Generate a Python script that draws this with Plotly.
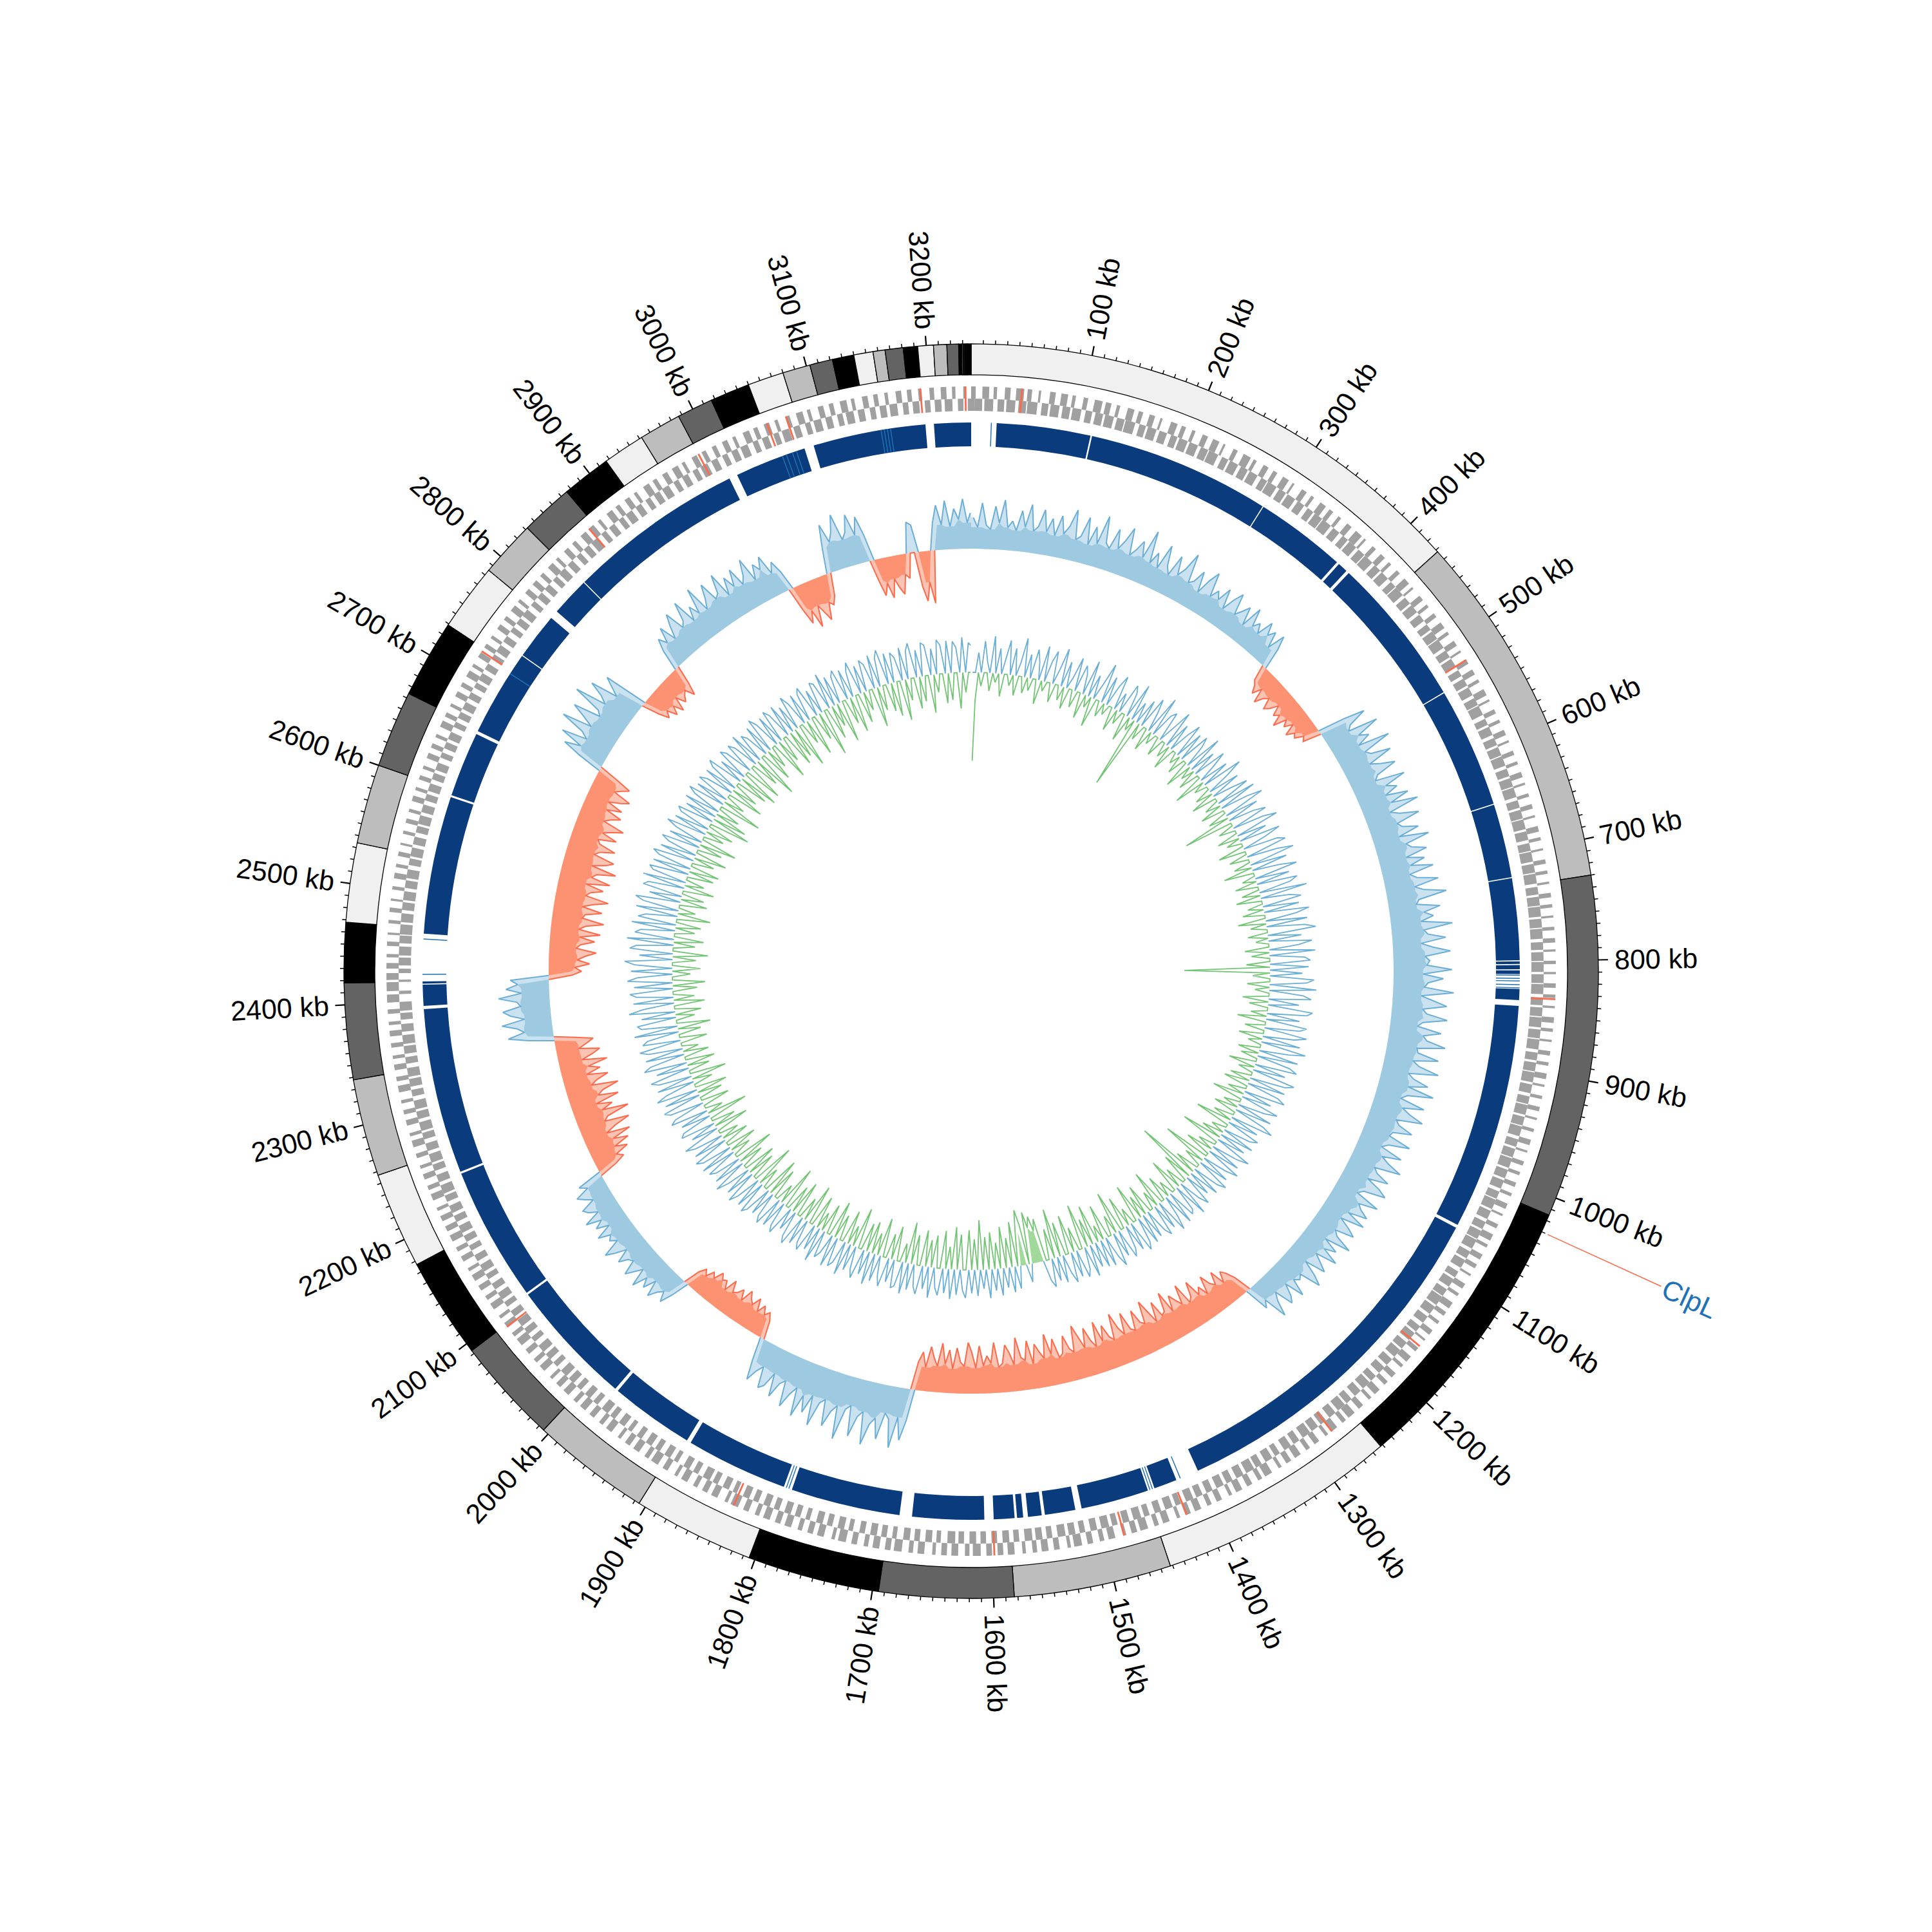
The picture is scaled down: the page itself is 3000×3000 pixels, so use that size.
import math
import plotly.graph_objects as go

# ---------------- data ----------------
GENOME_KB = 3237
BIN_KB = 5          # signal tracks
GENE_BIN_KB = 10    # gene density

contig_bounds_kb = [0, 432, 730, 1015, 1252, 1452, 1583, 1695, 1805, 1906, 2005, 2093, 2177,
                    2257, 2338, 2418, 2468, 2534, 2600, 2664, 2729, 2785, 2832, 2876, 2917,
                    2952, 2987, 3017, 3050, 3080, 3103, 3122, 3140, 3156, 3166, 3181, 3193,
                    3206, 3217, 3226.7, 3229.3, 3230.2, 3231.0, 3231.8, 3232.5, 3233.2,
                    3233.8, 3234.4, 3237]
contig_shades = ["#f0f0f0", "#bdbdbd", "#636363", "#000000"]

major_ticks_kb = [100, 200, 300, 400, 500, 600, 700, 800, 900, 1000, 1100, 1200, 1300, 1400,
                  1500, 1600, 1700, 1800, 1900, 2000, 2100, 2200, 2300, 2400, 2500, 2600, 2700,
                  2800, 2900, 3000, 3100, 3200]
tick_labels = [f"{k} kb" for k in major_ticks_kb]

# gene density per 10 kb bin (tenths), outer (+) and inner (-) strand
genes_fwd = [
    4,6,3,5,7,4,2,5,6,3,4,7,5,3,6,4,5,2,6,4,
    3,5,6,2,4,7,3,5,4,6,2,5,3,6,4,3,5,7,2,4,
    5,3,4,6,2,5,3,4,6,3,5,2,4,5,3,6,2,4,3,5,
    2,4,3,5,2,3,4,2,5,3,2,4,3,2,4,3,2,3,4,2,
    3,2,4,3,2,5,3,2,4,3,5,2,3,4,2,3,5,2,4,3,
    4,3,5,2,4,6,3,5,4,2,5,3,6,4,3,5,2,4,6,3,
    5,4,6,3,5,7,4,6,3,5,4,6,5,3,7,4,5,6,3,5,
    4,6,5,3,6,4,7,5,3,6,4,5,7,3,5,6,4,3,6,5,
    5,7,4,6,5,3,6,4,7,5,6,4,5,7,3,6,5,4,6,5,
    6,4,5,7,3,6,5,4,6,3,5,7,4,6,5,3,6,4,5,6,
    4,6,5,3,6,4,5,7,4,5,3,6,4,5,6,3,5,4,6,5,
    5,3,6,4,5,3,4,6,3,5,4,3,6,4,5,3,4,5,3,4,
    7,8,6,5,3,4,2,3,4,2,3,5,3,4,2,3,4,3,5,3,
    4,3,5,4,3,6,4,3,5,4,6,3,5,4,3,5,4,6,3,5,
    5,4,6,3,5,4,6,5,3,6,4,5,3,6,4,5,6,3,5,4,
    4,5,3,6,4,5,3,4,6,3,5,4,6,3,5,4,3,5,4,3,
    4,5,3,2]
genes_rev = [
    7,8,6,8,7,9,6,8,7,8,6,7,8,7,9,6,8,7,6,8,
    8,7,9,6,8,7,8,6,9,7,8,7,6,8,9,7,6,8,7,9,
    7,8,6,9,7,8,7,6,8,9,7,8,6,7,8,7,9,6,8,7,
    8,9,7,8,9,7,8,9,8,7,9,8,9,7,8,9,8,9,7,8,
    9,8,9,7,8,9,8,9,7,8,9,8,7,9,8,9,7,8,9,8,
    8,7,9,8,7,8,9,7,8,6,8,7,9,8,7,6,8,7,8,7,
    7,6,8,7,6,8,7,6,7,8,6,7,5,7,6,8,7,6,7,6,
    6,7,5,7,6,5,7,6,5,7,6,5,6,7,5,6,7,5,6,5,
    5,6,5,7,4,6,5,6,4,5,6,5,4,6,5,6,4,5,6,5,
    6,5,6,4,6,5,7,5,6,4,6,5,6,5,4,6,5,7,5,6,
    5,6,7,5,6,7,5,6,7,6,5,7,6,5,7,6,5,6,7,6,
    7,6,8,7,6,8,7,6,8,7,8,6,7,8,6,7,8,7,6,8,
    3,2,4,7,8,7,9,8,7,8,7,8,6,8,7,6,8,7,6,7,
    6,7,5,6,7,5,6,7,6,5,7,6,5,7,6,5,6,7,5,6,
    6,5,7,6,5,6,7,5,6,5,7,6,5,6,7,5,6,5,7,6,
    5,6,7,5,6,5,7,6,5,7,6,5,7,6,5,6,7,5,6,5,
    6,7,5,6]
red_genes_kb = [45, 520, 834, 1168, 1276, 1424, 1482, 1598, 1834, 2091, 2726, 2870, 2987,
                3053, 3071, 3192, 3232]

# conserved-region ring (navy blocks) and lighter partial hits
navy_start_kb = [24, 114.5, 289.5, 378.5, 391, 535.5, 650.5, 721.5, 800, 803.5, 808.5, 826,
                 842, 1060, 1421, 1449.5, 1520, 1552, 1569.5, 1577.6, 1606.1, 1686, 1798,
                 1899, 1982, 2105, 2235, 2395, 2416, 2463, 2596, 2661, 2744, 2796, 2834,
                 3010, 3087, 3202]
navy_end_kb = [113, 288.5, 376, 388, 534.5, 649.5, 720.5, 799, 802.5, 807.5, 812, 836.5,
               1057, 1399, 1443, 1514, 1549, 1565, 1575.3, 1597.3, 1674.2, 1790, 1895,
               1979, 2103, 2233, 2392, 2415, 2418, 2594, 2658, 2743, 2788, 2833, 3002,
               3078, 3194, 3237]
light_hits_kb = [19, 813, 816, 818.5, 822, 825, 1417, 1445, 1447.5, 1793, 1795.5, 2424.7,
                 2458, 2723, 3056, 3060, 3066, 3070, 3152, 3155, 3158, 3161]

# outer signal track (5 kb bins): + outward (blue) / - inward (red)
gc_dev = [
    0.55,0.38,0.81,0.42,0.35,0.76,0.47,0.88,0.40,0.52,0.36,0.72,0.44,0.85,0.39,0.48,0.79,0.41,0.66,0.37,
    0.74,0.43,0.58,0.90,0.38,0.46,0.82,0.35,0.69,0.41,0.93,0.47,0.39,0.77,0.44,0.61,0.87,0.40,0.53,0.72,
    0.45,0.97,0.41,0.63,0.38,0.84,0.49,0.36,0.75,0.43,0.58,0.91,0.40,0.47,0.70,0.34,0.62,0.81,0.39,0.55,
    0.42,0.68,0.33,0.57,0.74,0.37,0.49,0.63,0.31,0.71,0.40,0.52,0.36,0.66,0.45,0.58,0.30,0.62,0.38,-0.28,
    -0.35,-0.48,-0.31,-0.56,-0.40,-0.33,-0.52,-0.44,-0.29,-0.47,-0.38,-0.58,-0.34,-0.45,-0.30,-0.51,-0.37,-0.42,-0.27,-0.33,
    0.48,0.86,0.52,0.44,0.97,0.55,0.71,0.46,1.02,0.50,0.58,0.92,0.47,0.65,0.89,0.51,0.43,0.95,0.56,0.74,
    0.49,0.88,0.53,1.00,0.45,0.61,0.93,0.50,0.57,0.84,0.46,0.98,0.54,0.62,0.87,0.48,0.79,0.52,0.91,0.47,
    0.58,0.95,0.51,0.67,1.05,0.55,0.49,0.90,0.60,0.76,0.53,1.08,0.57,0.63,0.94,0.50,0.71,1.01,0.56,0.64,
    0.59,1.03,0.52,0.88,0.61,0.55,1.07,0.50,0.73,0.96,0.54,0.62,0.99,0.57,0.48,0.91,0.60,0.68,1.02,0.53,
    0.56,0.94,0.50,0.63,0.99,0.47,0.58,0.86,0.52,1.00,0.55,0.45,0.90,0.53,0.69,0.95,0.49,0.57,0.84,0.51,
    0.48,0.89,0.53,0.42,0.83,0.50,0.66,0.92,0.46,0.55,0.80,0.44,0.71,0.87,0.49,0.40,0.85,0.52,0.61,0.78,
    0.45,0.81,0.39,0.60,0.76,0.43,0.52,0.84,0.38,0.67,0.47,0.79,0.41,0.57,0.73,0.36,0.63,0.82,0.44,0.50,
    0.42,0.72,0.37,0.58,0.69,0.35,0.49,0.76,0.33,0.45,-0.32,-0.48,-0.57,-0.38,-0.66,-0.44,-0.52,-0.71,-0.40,-0.59,
    -0.47,-0.78,-0.53,-0.45,-0.84,-0.50,-0.62,-0.75,-0.48,-0.88,-0.55,-0.51,-0.80,-0.46,-0.69,-0.91,-0.52,-0.58,-0.83,-0.49,
    -0.54,-0.87,-0.50,-0.64,-0.93,-0.48,-0.56,-0.79,-0.53,-0.90,-0.47,-0.61,-0.85,-0.51,-0.74,-0.95,-0.49,-0.57,-0.82,-0.52,
    -0.46,-0.81,-0.55,-0.92,-0.50,-0.63,-0.78,-0.44,-0.86,-0.52,-0.58,-0.94,-0.47,-0.69,-0.83,-0.51,-0.45,-0.89,-0.53,-0.66,
    -0.49,-0.84,-0.45,-0.72,-0.90,-0.48,-0.55,-0.80,-0.43,-0.76,-0.51,-0.87,-0.46,-0.60,-0.79,-0.42,-0.68,-0.50,0.56,0.92,
    0.52,1.08,0.58,0.49,0.97,0.61,0.74,1.12,0.55,0.66,1.03,0.50,0.59,1.15,0.57,0.70,0.99,0.53,0.62,1.06,
    0.54,0.88,0.60,1.01,0.51,0.67,0.93,0.48,0.57,0.85,0.45,0.72,0.80,0.43,0.55,0.76,0.41,-0.33,-0.46,-0.38,
    -0.52,-0.36,-0.58,-0.42,-0.49,-0.61,-0.37,-0.55,-0.44,-0.40,-0.59,-0.35,-0.50,-0.46,-0.56,-0.39,-0.47,-0.33,-0.42,-0.30,
    0.32,0.55,0.38,0.47,0.63,0.35,0.58,0.42,0.69,0.37,0.51,0.66,0.40,0.45,0.61,0.36,0.56,0.72,0.39,0.50,
    0.43,0.64,0.35,0.57,0.41,0.68,0.38,0.53,0.60,0.34,0.47,0.58,0.32,0.45,-0.34,-0.52,-0.41,-0.66,-0.45,-0.74,
    -0.48,-0.83,-0.42,-0.61,-0.90,-0.47,-0.55,-0.96,-0.50,-0.71,-0.44,-0.87,-0.52,-0.63,-0.93,-0.46,-0.58,-0.80,-0.43,-0.69,
    -0.49,-0.85,-0.41,-0.62,-0.76,-0.40,-0.55,-0.68,-0.37,0.45,0.80,0.50,0.62,0.88,0.47,0.71,0.84,0.52,0.58,0.90,
    0.49,0.76,0.55,0.68,-0.41,-0.58,-0.46,-0.72,-0.50,-0.64,-0.83,-0.47,-0.55,-0.79,-0.52,-0.88,-0.49,-0.61,-0.92,-0.53,
    -0.57,-0.86,-0.50,-0.69,-0.94,-0.52,-0.60,-0.81,-0.48,-0.90,-0.55,-0.63,-0.96,-0.51,-0.74,-0.87,-0.49,-0.58,-0.83,-0.53,
    -0.47,-0.79,-0.51,-0.66,-0.85,-0.45,-0.56,-0.72,-0.42,-0.68,-0.39,-0.60,-0.74,-0.41,-0.52,-0.64,-0.36,0.44,0.78,0.50,
    0.92,0.47,0.61,1.05,0.52,0.73,0.98,0.49,0.58,1.10,0.54,0.68,0.95,0.46,0.63,0.80,-0.31,-0.50,-0.39,-0.57,
    -0.42,-0.60,-0.35,-0.53,-0.44,-0.38,-0.55,-0.33,0.38,0.59,0.44,0.71,0.40,0.63,0.82,0.46,0.55,0.88,0.43,0.67,
    0.48,0.93,0.45,0.62,0.86,0.51,0.57,0.90,0.44,0.74,0.52,0.81,0.47,0.60,0.87,0.43,0.69,0.55,0.76,0.40,
    0.58,0.36,-0.42,-0.71,-0.50,-0.83,-0.46,-0.62,-0.78,-0.48,-0.55,-0.40,0.45,0.86,0.52,0.68,0.97,0.49,0.60,0.90,
    0.51,0.82,0.47,-0.38,-0.66,-0.45,-0.73,-0.40,-0.58,-0.70,-0.36,-0.44,0.55,0.49,-0.62,-0.88,-0.55,-0.93,0.48,0.79,
    0.44,0.86,0.40,0.71,0.52,0.88,0.46,0.63]

# inner skew track (5 kb bins): + outward (blue) / - inward (green)
skew = [
    -0.98,-0.30,0.22,-0.15,0.35,0.12,-0.20,0.41,-0.10,0.28,-0.25,0.18,0.38,-0.12,0.30,-0.22,0.15,0.43,-0.18,0.26,
    -0.14,0.33,0.20,-0.27,0.39,-0.11,0.24,0.36,-0.21,0.17,0.42,-0.16,0.29,-0.24,0.13,0.37,-0.19,0.31,0.22,-0.28,
    0.40,-0.13,0.26,-0.33,0.19,0.44,-0.17,0.32,-0.12,0.25,0.38,-0.26,0.21,-0.15,0.35,0.27,-0.30,0.41,-0.14,0.23,
    -0.80,0.30,-0.18,0.37,0.22,-0.25,0.45,-0.13,0.28,0.34,-0.21,0.19,0.42,-0.16,0.31,-0.27,0.24,0.39,-0.12,0.33,
    -0.20,0.36,0.25,-0.31,0.43,-0.15,0.29,-0.23,0.38,0.21,-0.35,0.33,-0.14,0.46,0.27,-0.19,0.35,-0.28,0.22,0.40,
    -0.17,0.44,-0.26,0.31,0.48,-0.22,0.37,-0.55,0.29,0.42,-0.18,0.35,0.50,-0.24,0.33,-0.16,0.46,0.28,-0.30,0.39,
    0.47,-0.21,0.34,0.52,-0.19,0.41,-0.33,0.30,0.49,-0.15,0.38,-0.25,0.45,0.36,-0.20,0.53,-0.28,0.32,0.44,-0.17,
    0.40,-0.24,0.50,0.35,-0.31,0.46,-0.18,0.42,0.54,-0.22,0.37,-0.14,0.48,0.33,-0.27,0.51,-0.20,0.39,0.45,-0.26,
    0.43,-0.95,0.36,-0.19,0.49,0.41,-0.25,0.52,-0.16,0.38,0.47,-0.29,0.34,-0.21,0.50,0.44,-0.18,0.37,-0.32,0.46,
    0.39,-0.22,0.48,0.35,-0.27,0.43,-0.15,0.51,0.32,-0.24,0.45,-0.19,0.38,0.47,-0.30,0.36,-0.17,0.49,0.40,-0.23,
    0.42,-0.28,0.37,0.46,-0.20,0.33,-0.35,0.44,0.30,-0.18,0.41,-0.26,0.36,0.48,-0.22,0.34,-0.40,0.39,0.31,-0.16,
    0.38,-0.24,0.32,-0.45,0.43,0.29,-0.19,0.36,-0.30,0.41,0.27,-0.52,0.34,-0.21,0.39,0.30,-0.26,0.35,-0.70,0.28,
    -0.33,0.36,0.25,-0.22,0.40,-0.38,0.29,0.33,-0.17,0.37,-0.28,0.24,0.39,-0.41,0.31,-0.20,0.35,0.27,-0.34,0.30,
    -0.25,0.33,-0.42,0.28,0.36,-0.19,0.31,-0.36,0.26,0.34,-0.47,0.29,-0.22,0.37,0.25,-0.39,0.32,-0.18,0.30,-0.44,
    0.27,-0.31,0.35,-0.50,0.24,0.32,-0.27,0.29,-0.43,0.33,0.22,-0.38,0.30,-0.55,0.26,-0.34,0.31,0.23,-0.48,-0.35,
    -0.52,-0.40,-0.58,0.20,-0.45,-0.62,-0.38,0.25,-0.50,0.28,-0.33,0.22,-0.46,0.30,-0.29,0.24,-0.41,0.32,-0.36,0.21,
    -0.55,0.29,-0.34,0.26,-0.44,0.31,0.23,-0.39,0.28,-0.47,0.33,-0.25,0.27,-0.42,0.30,0.22,-0.36,0.34,-0.30,0.25,
    -0.40,0.32,0.24,-0.33,0.29,-0.46,0.35,-0.21,0.28,0.31,-0.38,0.26,-0.28,0.33,0.22,-0.43,0.30,-0.24,0.36,-0.35,
    0.27,-0.31,0.34,0.25,-0.45,0.29,-0.22,0.37,-0.37,0.26,0.32,-0.28,0.35,-0.41,0.23,0.30,-0.33,0.38,-0.20,0.28,
    -0.36,0.33,0.26,-0.44,0.31,-0.25,0.36,0.29,-0.39,0.24,-0.30,0.34,0.27,-0.47,0.32,-0.21,0.35,0.28,-0.34,0.30,
    -0.42,0.31,0.37,-0.23,0.34,-0.48,0.28,0.38,-0.30,0.33,-0.36,0.26,0.40,-0.27,0.35,-0.44,0.29,0.36,-0.22,0.39,
    -0.33,0.34,0.41,-0.29,0.37,-0.21,0.32,0.43,-0.38,0.30,-0.26,0.39,0.35,-0.45,0.33,-0.19,0.42,0.36,-0.31,0.38,
    0.44,-0.27,0.39,-0.35,0.46,0.34,-0.22,0.41,-0.40,0.37,0.45,-0.24,0.36,-0.32,0.48,0.40,-0.28,0.43,-0.18,0.38,
    0.47,-0.30,0.42,0.36,-0.25,0.49,-0.37,0.40,0.44,-0.21,0.38,-0.29,0.51,0.35,-0.34,0.45,-0.23,0.41,0.48,-0.27,
    0.43,-0.36,0.50,0.39,-0.20,0.46,-0.31,0.42,0.53,-0.26,0.37,-0.39,0.48,0.41,-0.24,0.52,-0.33,0.44,0.38,-0.22,
    0.49,-0.28,0.43,0.35,-0.37,0.47,-0.19,0.41,0.50,-0.30,0.36,-0.25,0.45,0.40,-0.34,0.48,-0.21,0.39,0.44,-0.29,
    0.42,-0.33,0.38,0.46,-0.24,0.40,-0.36,0.34,0.43,-0.27,0.37,-0.41,0.33,0.45,-0.22,0.39,-0.30,0.36,0.41,-0.45,
    0.35,-0.38,0.40,-0.26,0.33,0.42,-0.47,0.36,-0.23,0.39,0.31,-0.40,0.37,-0.29,0.34,0.41,-0.35,0.30,-0.44,0.38,
    0.32,-0.42,0.36,0.29,-0.31,0.39,-0.50,0.33,0.27,-0.36,0.35,-0.24,0.40,0.31,-0.45,0.34,-0.28,0.37,0.30,-0.39,
    0.36,-0.33,0.30,-0.48,0.38,0.28,-0.26,0.34,-0.43,0.31,0.37,-0.30,0.29,-0.52,0.35,0.32,-0.37,0.40,-0.25,0.33,
    -0.46,0.30,0.36,-0.29,0.33,-0.41,0.28,0.38,-0.34,0.31,-0.22,0.35,0.29,-0.44,0.37,-0.27,0.32,0.40,-0.31,0.34,
    -0.38,0.33,0.27,-0.45,0.36,-0.24,0.31,0.39,-0.35,0.30,-0.28,0.37,0.34,-0.42,0.29,-0.20,0.38,0.32,-0.33,0.36,
    -0.30,0.35,0.28,-0.40,0.39,-0.22,0.33,0.30]

clpl_kb = 1030
clpl_label = "ClpL"

N_BINS = len(gc_dev)
assert N_BINS == 648, N_BINS
assert len(skew) == N_BINS, len(skew)
assert len(genes_fwd) == 324 and len(genes_rev) == 324
assert len(navy_start_kb) == len(navy_end_kb)

# ---------------- geometry (radii in px on a 3000 px canvas) ----------------
W = 3000
R_IDEO_IN, R_IDEO_OUT = 926, 974
R_GENE_IN, R_GENE_MID, R_GENE_OUT = 870, 889, 908
R_NAVY_IN, R_NAVY_OUT = 815, 852
R_GC_BASE, GC_SCALE = 656, 88
R_SKEW_BASE, SKEW_SCALE = 464, 140
LABEL_FONT = 43
LABEL_R0 = 999
FONT = "Liberation Sans, Arial, sans-serif"


def deg(kb):
    return kb / GENOME_KB * 360.0


bin_centers = [deg(min(i * BIN_KB + BIN_KB / 2, (i * BIN_KB + GENOME_KB) / 2)) for i in range(N_BINS)]

fig = go.Figure()

# ---------- ideogram ring ----------
seg_mid, seg_w, seg_c = [], [], []
for i in range(len(contig_bounds_kb) - 1):
    a, b = contig_bounds_kb[i], contig_bounds_kb[i + 1]
    seg_mid.append(deg((a + b) / 2))
    seg_w.append(deg(b - a))
    seg_c.append(contig_shades[i % 4])
fig.add_trace(go.Barpolar(theta=seg_mid, width=seg_w, r=[R_IDEO_OUT - R_IDEO_IN] * len(seg_mid),
                          base=R_IDEO_IN, marker=dict(color=seg_c, line=dict(color="black", width=1.3)),
                          hoverinfo="skip"))

# ---------- genes (block per 10 kb bin, forward start-aligned, reverse end-aligned) ----------
for dens, base, align in ((genes_fwd, R_GENE_MID, 0), (genes_rev, R_GENE_IN, 1)):
    th, wd = [], []
    for i, d in enumerate(dens):
        if d <= 0:
            continue
        span = GENE_BIN_KB * d / 10.0
        start = i * GENE_BIN_KB + (GENE_BIN_KB - span) * align
        th.append(deg(start + span / 2))
        wd.append(deg(span))
    fig.add_trace(go.Barpolar(theta=th, width=wd, r=[R_GENE_OUT - R_GENE_MID] * len(th), base=base,
                              marker=dict(color="#a0a0a0", line=dict(width=0)), hoverinfo="skip"))
fig.add_trace(go.Barpolar(theta=[deg(k) for k in red_genes_kb], width=[deg(1.6)] * len(red_genes_kb),
                          r=[R_GENE_OUT - R_GENE_IN] * len(red_genes_kb), base=R_GENE_IN,
                          marker=dict(color="#fb6a4a", line=dict(width=0)), hoverinfo="skip"))

# ---------- navy ring ----------
fig.add_trace(go.Barpolar(theta=[deg((a + b) / 2) for a, b in zip(navy_start_kb, navy_end_kb)],
                          width=[deg(b - a) for a, b in zip(navy_start_kb, navy_end_kb)],
                          r=[R_NAVY_OUT - R_NAVY_IN] * len(navy_start_kb), base=R_NAVY_IN,
                          marker=dict(color="#0a3c7d", line=dict(width=0)), hoverinfo="skip"))
fig.add_trace(go.Barpolar(theta=[deg(k) for k in light_hits_kb], width=[deg(0.9)] * len(light_hits_kb),
                          r=[R_NAVY_OUT - R_NAVY_IN] * len(light_hits_kb), base=R_NAVY_IN,
                          marker=dict(color="#2171b5", line=dict(width=0)), hoverinfo="skip"))


# ---------- signal tracks ----------
def part(values, sign):
    return [max(sign * v, 0) for v in values]


def fill_path(values, base, scale, sign, use_floor):
    p = part(values, sign)
    n = len(p)
    if use_floor:
        p = [min(p[(i - 1) % n], p[i], p[(i + 1) % n]) for i in range(n)]
    th = [0.0] + bin_centers + [360.0]
    pv = [p[0]] + p + [p[-1]]
    outer = [base + sign * f * scale for f in pv]
    return th + th[::-1], outer + [base] * len(th)


def line_path(values, base, scale, sign):
    p = part(values, sign)
    n = len(p)
    th, rr = [], []
    for i in range(n):
        near = any(p[j % n] > 0 for j in (i - 1, i, i + 1))
        th.append(bin_centers[i])
        rr.append(base + sign * p[i] * scale if near else None)
    return th, rr


def add_fill(values, base, scale, sign, color, use_floor):
    t, r = fill_path(values, base, scale, sign, use_floor)
    fig.add_trace(go.Scatterpolar(theta=t, r=r, mode="lines", fill="toself", fillcolor=color,
                                  line=dict(width=0, color=color), hoverinfo="skip"))


def add_line(values, base, scale, sign, color, lw):
    t, r = line_path(values, base, scale, sign)
    fig.add_trace(go.Scatterpolar(theta=t, r=r, mode="lines", connectgaps=False,
                                  line=dict(width=lw, color=color), hoverinfo="skip"))


# outer track: translucent area under the line, solid band up to the local floor, darker line
add_fill(gc_dev, R_GC_BASE, GC_SCALE, 1, "rgba(158,202,225,0.55)", False)
add_fill(gc_dev, R_GC_BASE, GC_SCALE, -1, "rgba(252,146,114,0.55)", False)
add_fill(gc_dev, R_GC_BASE, GC_SCALE, 1, "#9ecae1", True)
add_fill(gc_dev, R_GC_BASE, GC_SCALE, -1, "#fc9272", True)
add_line(gc_dev, R_GC_BASE, GC_SCALE, 1, "#6baed6", 2.0)
add_line(gc_dev, R_GC_BASE, GC_SCALE, -1, "#fb6a4a", 2.0)

# inner track: light band up to the local floor, lines
add_fill(skew, R_SKEW_BASE, SKEW_SCALE, 1, "#9ecae1", True)
add_fill(skew, R_SKEW_BASE, SKEW_SCALE, -1, "#a1d99b", True)
add_line(skew, R_SKEW_BASE, SKEW_SCALE, 1, "#6baed6", 1.8)
add_line(skew, R_SKEW_BASE, SKEW_SCALE, -1, "#74c476", 1.8)

# ---------- ticks ----------
tk_t, tk_r, tj_t, tj_r = [], [], [], []
for kb in range(GENE_BIN_KB, GENOME_KB, GENE_BIN_KB):
    if kb % 100 == 0:
        tj_t += [deg(kb), deg(kb), None]
        tj_r += [R_IDEO_OUT, R_IDEO_OUT + 15, None]
    else:
        tk_t += [deg(kb), deg(kb), None]
        tk_r += [R_IDEO_OUT, R_IDEO_OUT + 6, None]
fig.add_trace(go.Scatterpolar(theta=tk_t, r=tk_r, mode="lines", line=dict(color="black", width=1.5),
                              hoverinfo="skip"))
fig.add_trace(go.Scatterpolar(theta=tj_t, r=tj_r, mode="lines", line=dict(color="black", width=2.2),
                              hoverinfo="skip"))

# ClpL pointer line
fig.add_trace(go.Scatterpolar(theta=[deg(clpl_kb), deg(clpl_kb)], r=[984, 1178], mode="lines",
                              line=dict(color="#fb6a4a", width=1.5), hoverinfo="skip"))

# ---------- labels ----------
EM = {'0': .556, '1': .556, '2': .556, '3': .556, '4': .556, '5': .556, '6': .556, '7': .556,
      '8': .556, '9': .556, ' ': .278, 'k': .5, 'b': .556, 'C': .722, 'l': .222, 'p': .556, 'L': .556}


def text_w(s, size):
    return sum(EM.get(c, .556) for c in s) * size


def radial_annotation(kb, text, r0, size, color):
    th = deg(kb)
    rc = r0 + text_w(text, size) / 2
    ang = th - 90 if th < 180 else th - 270
    return dict(x=0.5 + rc * math.sin(math.radians(th)) / W, y=0.5 + rc * math.cos(math.radians(th)) / W,
                xref="paper", yref="paper", text=text, showarrow=False, textangle=ang,
                xanchor="center", yanchor="middle", font=dict(family=FONT, size=size, color=color))


annotations = [radial_annotation(k, lab, LABEL_R0, LABEL_FONT, "black")
               for k, lab in zip(major_ticks_kb, tick_labels)]
annotations.append(radial_annotation(clpl_kb, clpl_label, 1182, 43, "#2171b5"))

fig.update_layout(
    width=W, height=W, margin=dict(l=0, r=0, t=0, b=0),
    paper_bgcolor="white", showlegend=False,
    polar=dict(
        domain=dict(x=[0, 1], y=[0, 1]),
        bgcolor="white", barmode="overlay", hole=0,
        radialaxis=dict(range=[0, W / 2], visible=False, showgrid=False, showline=False,
                        showticklabels=False, ticks=""),
        angularaxis=dict(rotation=90, direction="clockwise", visible=False, showgrid=False,
                         showline=False, showticklabels=False, ticks=""),
    ),
    annotations=annotations,
)

fig.write_html("out.html")
